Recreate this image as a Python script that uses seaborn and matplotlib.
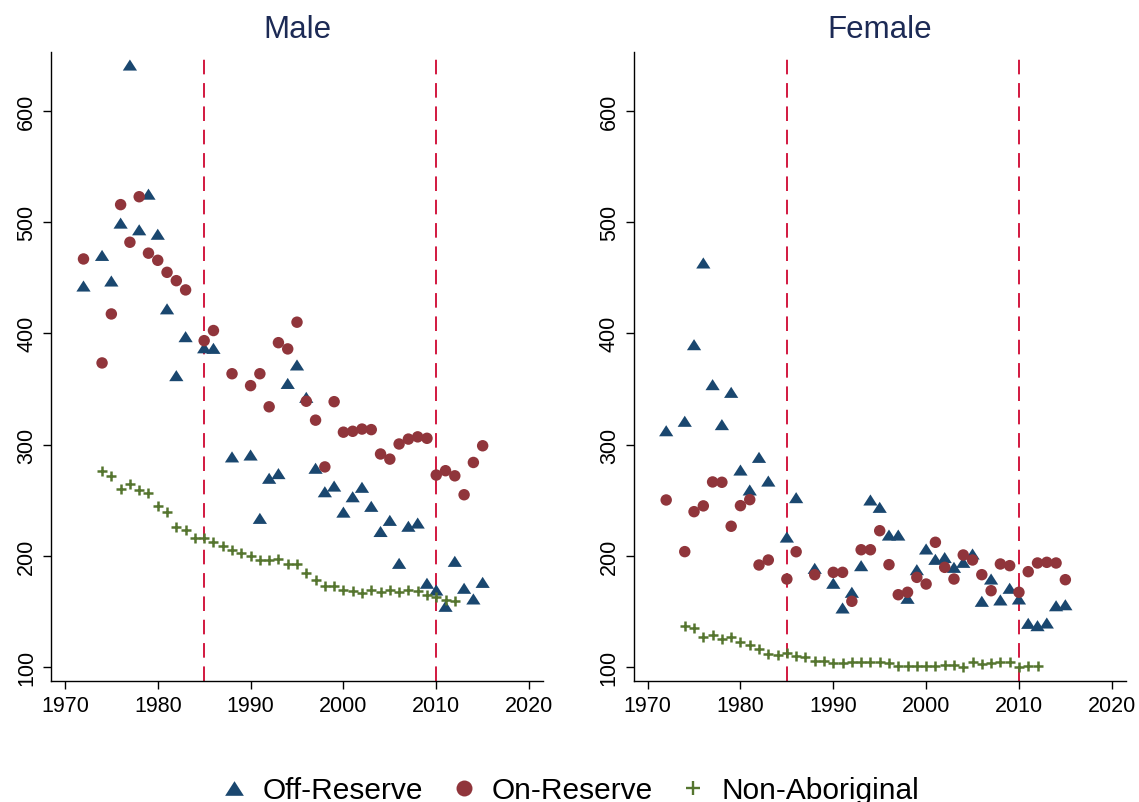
import numpy as np
import pandas as pd
import matplotlib
matplotlib.use("Agg")
import matplotlib.pyplot as plt
from matplotlib.lines import Line2D
import seaborn as sns

# ---------------- data ----------------
years_ind = [1972, 1974, 1975, 1976, 1977, 1978, 1979, 1980, 1981, 1982, 1983,
             1985, 1986, 1988, 1990, 1991, 1992, 1993, 1994, 1995, 1996, 1997,
             1998, 1999, 2000, 2001, 2002, 2003, 2004, 2005, 2006, 2007, 2008,
             2009, 2010, 2011, 2012, 2013, 2014, 2015]
years_non = list(range(1974, 2013))

male_off = [442.5, 470, 447, 499, 641, 493, 525, 489, 422, 362, 397,
            387, 386.5, 289, 290.7, 233.8, 269.8, 274, 355, 371.6, 342.5, 278.8,
            257.7, 262.8, 239.4, 253.2, 261.7, 244.6, 222, 232, 193.4, 226.7, 229.6,
            175.5, 169.4, 154.8, 195.2, 171, 161.4, 176.3]
male_on = [466.8, 373.4, 417.4, 515.6, 481.8, 522.7, 472, 465.6, 454.8, 447.3, 439,
           393.4, 402.5, 363.7, 353, 363.7, 334, 391.6, 386, 410, 339, 322,
           280, 338.6, 311.2, 312, 314, 313.5, 291.6, 287, 300.6, 305, 307,
           305.7, 272.7, 276.6, 272, 255, 284, 299]
male_non = [276, 272, 260, 264.7, 259.5, 256.3, 244.6, 239.2, 226.3, 223.3,
            216, 216, 212.3, 208.7, 205.7, 202.7, 200.3, 196.7, 196.1, 197.6,
            192.8, 192.8, 184.7, 178.4, 173, 172.8, 169.4, 168.8, 166.7, 169.7,
            168, 169.7, 168, 169.7, 168.3, 165, 162.9, 160.7, 159.8]

female_off = [312.5, 321, 389.8, 463.2, 353.9, 318, 347, 277.2, 259.3, 288.6, 267.3,
              217, 252.4, 188.9, 175.5, 153.3, 167.4, 191.3, 250.3, 243.7, 218.8, 218.8,
              162, 187.7, 206.3, 197, 198.6, 189.8, 194.3, 201.8, 159.3, 179.3, 160.5,
              171, 161.4, 139.5, 137.4, 139.8, 155.3, 156.2]
female_on = [250.3, 203.9, 239.8, 245, 266.5, 266.2, 226.7, 245.2, 250.6, 191.9, 196.4,
             179.3, 203.8, 183.2, 185.3, 185.3, 159.3, 205.6, 205.6, 222.7, 192.2, 165.2,
             167.4, 180.8, 174.8, 212.3, 189.8, 179.3, 200.9, 196.4, 183.2, 168.8, 192.8,
             191.3, 167.4, 185.9, 193.7, 194.3, 193.7, 178.7]
female_non = [136.8, 135.6, 127.5, 129, 125.4, 127.5, 122.5, 120.3, 116.4, 112,
              110.8, 112.8, 110.4, 109, 106, 106, 103.9, 103.9, 104.5, 105,
              104.5, 104.5, 103.9, 101.5, 101.5, 101, 101, 100.9, 101.8, 101.8,
              100.5, 104.5, 103, 104, 105, 104.5, 100.5, 101, 101.5]

panels = ["Male", "Female"]
groups = ["Off-Reserve", "On-Reserve", "Non-Aboriginal"]
x_ticks = [1970, 1980, 1990, 2000, 2010, 2020]
y_ticks = [100, 200, 300, 400, 500, 600]
policy_years = [1985, 2010]

rows = []
for sex, off, on, non in [("Male", male_off, male_on, male_non),
                          ("Female", female_off, female_on, female_non)]:
    for y, v in zip(years_ind, off):
        rows.append((sex, "Off-Reserve", y, v))
    for y, v in zip(years_ind, on):
        rows.append((sex, "On-Reserve", y, v))
    for y, v in zip(years_non, non):
        rows.append((sex, "Non-Aboriginal", y, v))
df = pd.DataFrame(rows, columns=["sex", "group", "year", "value"])

# ---------------- style ----------------
sns.set_theme(style="white")
plt.rcParams["font.family"] = ["Liberation Sans", "DejaVu Sans"]
plt.rcParams["text.color"] = "black"

colors = {"Off-Reserve": "#1a476f", "On-Reserve": "#90353b", "Non-Aboriginal": "#55752f"}
tri = [(0, 0.78), (-1, -0.78), (1, -0.78)]
markers = {"Off-Reserve": tri, "On-Reserve": "o", "Non-Aboriginal": "+"}
sizes = {"Off-Reserve": 105, "On-Reserve": 68, "Non-Aboriginal": 55}
red = "#d2183f"
title_color = "#1c2a55"

fig = plt.figure(figsize=(11.39, 8.03), dpi=100)
fig.patch.set_facecolor("white")
W, H = 1139, 803
ax_w, ax_h = 492 / W, 629 / H
bottom = 1 - 682 / H
lefts = [51 / W, 633.7 / W]

for sex, left in zip(panels, lefts):
    ax = fig.add_axes([left, bottom, ax_w, ax_h])
    for py in policy_years:
        ln = ax.axvline(py, color=red, lw=1.4, zorder=1)
        ln.set_dashes((7.5, 4.5))
    for g in groups:
        d = df[(df.sex == sex) & (df.group == g)]
        if g == "Non-Aboriginal":
            sns.scatterplot(data=d, x="year", y="value", ax=ax, marker="+",
                            s=sizes[g], color=colors[g], linewidth=1.8, zorder=3,
                            legend=False)
        else:
            sns.scatterplot(data=d, x="year", y="value", ax=ax, marker=markers[g],
                            s=sizes[g], color=colors[g], edgecolor="none",
                            linewidth=0, zorder=3, legend=False)
    ax.set_xlim(1968.5, 2021.5)
    ax.set_ylim(87.7, 652.7)
    ax.set_xticks(x_ticks)
    ax.set_yticks(y_ticks)
    ax.set_xlabel("")
    ax.set_ylabel("")
    for s in ["top", "right"]:
        ax.spines[s].set_visible(False)
    for s in ["left", "bottom"]:
        ax.spines[s].set_color("black")
        ax.spines[s].set_linewidth(1.0)
    ax.tick_params(axis="both", direction="out", length=6, width=1.0,
                   color="black", labelsize=15.5, labelcolor="black",
                   bottom=True, left=True, pad=4)
    plt.setp(ax.get_yticklabels(), rotation=90, va="center")
    ax.set_title(sex, fontsize=22.5, color=title_color, pad=11)
    ax.set_facecolor("white")

handles = [
    Line2D([], [], linestyle="none", marker=tri, markersize=13.5,
           markerfacecolor=colors["Off-Reserve"], markeredgecolor="none"),
    Line2D([], [], linestyle="none", marker="o", markersize=11.5,
           markerfacecolor=colors["On-Reserve"], markeredgecolor="none"),
    Line2D([], [], linestyle="none", marker="+", markersize=10,
           markeredgewidth=1.7, color=colors["Non-Aboriginal"]),
]
fig.legend(handles, groups, loc="center", bbox_to_anchor=(0.5, 0.015), ncol=3,
           frameon=False, fontsize=21.5, handlelength=1.0, handletextpad=0.45,
           columnspacing=0.85, labelcolor="black")

fig.savefig("out.png", dpi=100, facecolor="white")
